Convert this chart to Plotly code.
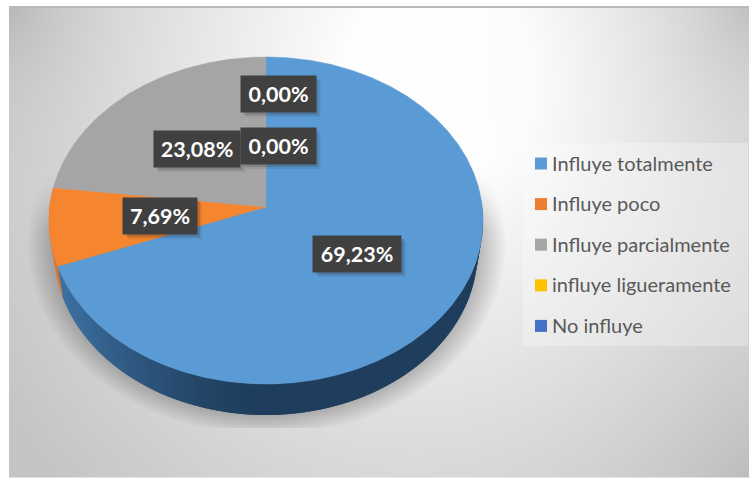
import numpy as np
import plotly.graph_objects as go

categories = ['Influye totalmente', 'Influye poco', 'Influye parcialmente',
              'influye ligueramente', 'No influye']
values = [69.23, 7.69, 23.08, 0.00, 0.00]
legend_colors = ['#5b9bd5', '#ed7d31', '#a5a5a5', '#ffc000', '#4472c4']
face_colors = ['#5b9bd5', '#f5852f', '#a5a5a5', '#ffc000', '#4472c4']

W, H = 751, 478

# pie geometry: tilted disc, apex is above the middle of the ellipse (perspective)
APEX_X, APEX_Y = 266, 207
PERSP, RY, RX = 0.0826, 162.4, 216.3
DEPTH = 31
RIM_SHRINK = 0.975


def project(deg, r=1.0):
    t = np.radians(deg)
    u, v = r * np.sin(t), r * np.cos(t)
    w = 1 + PERSP * v
    return APEX_X + RX * u / w, APEX_Y - RY * v / w


def wedge(a0, a1):
    ang = np.linspace(a0, a1, max(int(a1 - a0) * 2, 2))
    x, y = project(ang)
    return np.r_[APEX_X, x, APEX_X], np.r_[APEX_Y, y, APEX_Y]


def rim(x):
    return APEX_X + (x - APEX_X) * RIM_SHRINK


def mix(c0, c1, k):
    return 'rgb(%d,%d,%d)' % tuple(a + (b - a) * k for a, b in zip(c0, c1))


# background: radial grey fade, darker corners, pie shadow, top rule
yy, xx = np.mgrid[0:H, 0:W]
d = np.sqrt(((xx - 440) / 430.0) ** 2 + ((yy - 80) / 480.0) ** 2)
grey = 255 - 58 * np.clip(d - 0.22, 0, 1) ** 0.9
grey -= 24 * np.exp(-np.hypot(xx - 9, yy - 7) / 70.0)
grey -= 30 * np.exp(-np.hypot(xx - 749, yy - 7) / 90.0)
grey -= 14 * np.exp(-np.hypot(xx - 749, yy - 477) / 140.0)
e = np.sqrt(((xx - 266) / 240.0) ** 2 + ((yy - 245) / 190.0) ** 2)
shadow = np.clip((1 - e) / 0.13, 0, 1) * np.clip((yy - 170) / 60.0, 0, 1) * 0.27
shadow[yy > 427] = 0
grey = grey * (1 - shadow)
grey[:, :9] = 255
grey[:, 749:] = 255
grey[:6, :] = 255
grey[6:8, 9:749] = 184
bg = np.dstack([grey, grey, grey]).astype(np.uint8)

fig = go.Figure()
fig.add_trace(go.Image(z=bg, x0=0, y0=0, dx=1, dy=1, hoverinfo='skip'))

starts = np.r_[0, np.cumsum(values)[:-1]] * 3.6 / (sum(values) / 100)
ends = np.cumsum(values) * 3.6 / (sum(values) / 100)

# side wall, thin overlapping strips so the shading can vary without seams
for i in range(2):
    for a in np.arange(max(starts[i], 90), min(ends[i], 280), 1.5):
        b = min(a + 3, ends[i])
        x0, y0 = project(a)
        x1, y1 = project(b)
        k = np.clip((265 - x0) / 200.0, 0, 1)
        if i == 0:
            col = mix((31, 62, 93), (60, 112, 160), k ** 1.5)
        else:
            col = '#d9782c'
        fig.add_trace(go.Scatter(x=[x0, x1, rim(x1), rim(x0), x0],
                                 y=[y0, y1, y1 + DEPTH, y0 + DEPTH, y0],
                                 mode='lines', fill='toself', fillcolor=col,
                                 line=dict(color=col, width=0),
                                 hoverinfo='skip', showlegend=False))

# top face
for i, name in enumerate(categories):
    if values[i] <= 0:
        continue
    x, y = wedge(starts[i], ends[i])
    fig.add_trace(go.Scatter(x=x, y=y, mode='lines', fill='toself',
                             fillcolor=face_colors[i], name=name,
                             line=dict(color=face_colors[i], width=0.5),
                             showlegend=False))

shapes = []
annotations = []

# legend
LEG_X0, LEG_X1, LEG_Y0, LEG_Y1 = 523, 748, 143, 346
LEG_FIRST, LEG_STEP = 163.5, 40.6
shapes.append(dict(type='rect', x0=LEG_X0, x1=LEG_X1, y0=LEG_Y0, y1=LEG_Y1,
                   fillcolor='rgba(255,255,255,0.28)', line_width=0))
for i, name in enumerate(categories):
    yc = LEG_FIRST + i * LEG_STEP
    shapes.append(dict(type='rect', x0=535, x1=547, y0=yc - 6, y1=yc + 6,
                       fillcolor=legend_colors[i], line_width=0))
    annotations.append(dict(x=550, y=yc - 1, text=name, xanchor='left', yanchor='middle',
                            showarrow=False,
                            font=dict(family='Lato', size=20, color='#595959')))

# data labels (placed by hand in the original)
label_pos = [(357, 254), (160, 216), (197, 149), (278, 146), (278, 94)]
label_w = [88, 74, 86, 75, 75]
for i, (lx, ly) in enumerate(label_pos):
    w = label_w[i]
    for off, op in ((5, 0.10), (3, 0.18)):
        shapes.append(dict(type='rect', x0=lx - w / 2 + off, x1=lx + w / 2 + off,
                           y0=ly - 18 + off, y1=ly + 18 + off,
                           fillcolor='rgba(40,40,40,%g)' % op, line_width=0))
    annotations.append(dict(x=lx, y=ly, text=('%.2f%%' % values[i]).replace('.', ','),
                            showarrow=False, width=w, height=36, borderpad=0,
                            bgcolor='#404040', xanchor='center', yanchor='middle',
                            font=dict(family='Lato', size=21.5, color='white', weight='bold')))

fig.update_layout(
    width=W, height=H,
    margin=dict(l=0, r=0, t=0, b=0),
    paper_bgcolor='white', plot_bgcolor='white',
    showlegend=False,
    xaxis=dict(range=[0, W], visible=False, fixedrange=True),
    yaxis=dict(range=[H, 0], visible=False, fixedrange=True),
    shapes=shapes,
    annotations=annotations,
)

fig.write_html("out.html", config=dict(displayModeBar=False),
               post_script="document.body.style.margin='0';document.body.style.overflow='hidden';")
